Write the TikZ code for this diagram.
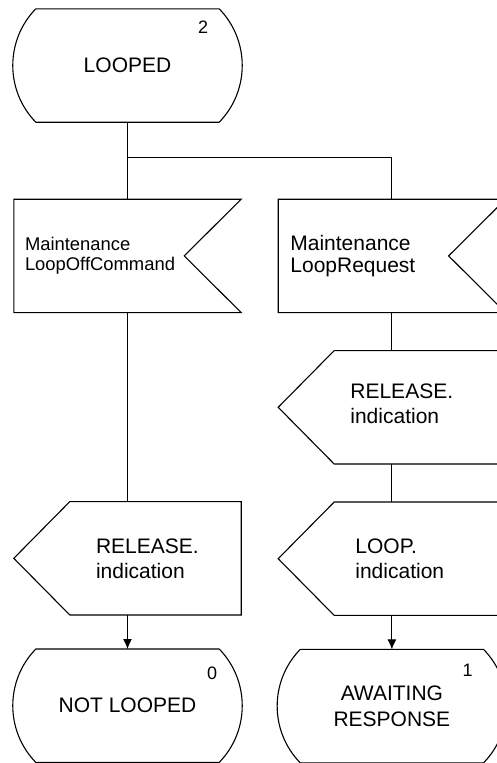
\documentclass[tikz,border=0pt]{standalone}
\usepackage{fontspec}
\setmainfont{Liberation Sans}
\usetikzlibrary{positioning,calc,arrows.meta}

% outlines of the SDL symbols, drawn round a named sdlbox node
\newcommand\drawstate[1]{%
  \draw[outline] ($(#1.north west)+(22,0)$) -- ($(#1.north east)+(-22,0)$)
    .. controls +(30.7,31.5) and +(30.7,-31.5) .. ($(#1.south east)+(-22,0)$)
    -- ($(#1.south west)+(22,0)$)
    .. controls +(-30.7,-31.5) and +(-30.7,31.5) .. ($(#1.north west)+(22,0)$) -- cycle;}
\newcommand\drawinput[1]{%
  \draw[outline] (#1.north west) -- (#1.north east) -- ($(#1.east)+(-57,0)$)
    -- (#1.south east) -- (#1.south west) -- cycle;}
\newcommand\drawoutput[1]{%
  \draw[outline] ($(#1.north west)+(56,0)$) -- (#1.north east) -- (#1.south east)
    -- ($(#1.south west)+(56,0)$) -- (#1.west) -- cycle;}

\begin{document}
\begin{tikzpicture}[
  x=1pt, y=-1pt,
  outline/.style={draw, line width=1.1pt, line join=miter},
  flow/.style={line width=1.1pt},
  sdlbox/.style={rectangle, inner sep=0pt, minimum width=227pt, minimum height=113pt},
  statetxt/.style={font=\fontsize{21}{26}\selectfont, align=center},
  sigtxt/.style={font=\fontsize{21}{25}\selectfont, align=left, inner sep=0pt},
  numtxt/.style={font=\fontsize{18}{20}\selectfont, inner sep=0pt},
  >={Latex[length=10pt,width=9pt]}
]
\useasboundingbox (0,0) rectangle (497,763);

% states and signals
\node[sdlbox, statetxt] (looped) at (127.5,65.5) {LOOPED};
\node[numtxt] (looped-no) at ($(looped.north east)+(-38,18.5)$) {2};

\node[sdlbox, below=77pt of looped] (offcmd) {};
\node[sigtxt, font=\fontsize{18.4}{20}\selectfont, right=11pt of offcmd.west] (offcmd-txt) {Maintenance\\LoopOffCommand};

\node[sdlbox, right=37pt of offcmd] (loopreq) {};
\node[sigtxt, font=\fontsize{21}{22}\selectfont, right=12pt of loopreq.west] (loopreq-txt) {Maintenance\\LoopRequest};

\node[sdlbox, below=38pt of loopreq] (relind1) {};
\node[sigtxt, right=72pt of relind1.west, yshift=4pt] (relind1-txt) {RELEASE.\\indication};

\node[sdlbox, below=38pt of relind1] (loopind) {};
\node[sigtxt, right=77pt of loopind.west] (loopind-txt) {LOOP.\\indication};

\node[sdlbox, below=189pt of offcmd] (relind2) {};
\node[sigtxt, right=82pt of relind2.west] (relind2-txt) {RELEASE.\\indication};

\node[sdlbox, statetxt, below=34pt of relind2] (notlooped) {NOT LOOPED};
\node[numtxt] (notlooped-no) at ($(notlooped.north east)+(-29,24)$) {0};

\node[sdlbox, statetxt, below=34pt of loopind] (awaiting) {AWAITING\\RESPONSE};
\node[numtxt] (awaiting-no) at ($(awaiting.north east)+(-38,21)$) {1};

\drawstate{looped}
\drawinput{offcmd}
\drawinput{loopreq}
\drawoutput{relind1}
\drawoutput{loopind}
\drawoutput{relind2}
\drawstate{notlooped}
\drawstate{awaiting}

% flow lines
\coordinate (split) at ($(looped.south)!0.455!(offcmd.north)$);
\draw[flow] (looped.south) -- (offcmd.north);
\draw[flow] (split) -| (loopreq.north);
\draw[flow] (offcmd.south) -- (relind2.north);
\draw[flow] (loopreq.south) -- (relind1.north);
\draw[flow] (relind1.south) -- (loopind.north);
\draw[flow, ->] (relind2.south) -- (notlooped.north);
\draw[flow, ->] (loopind.south) -- (awaiting.north);

\end{tikzpicture}
\end{document}
